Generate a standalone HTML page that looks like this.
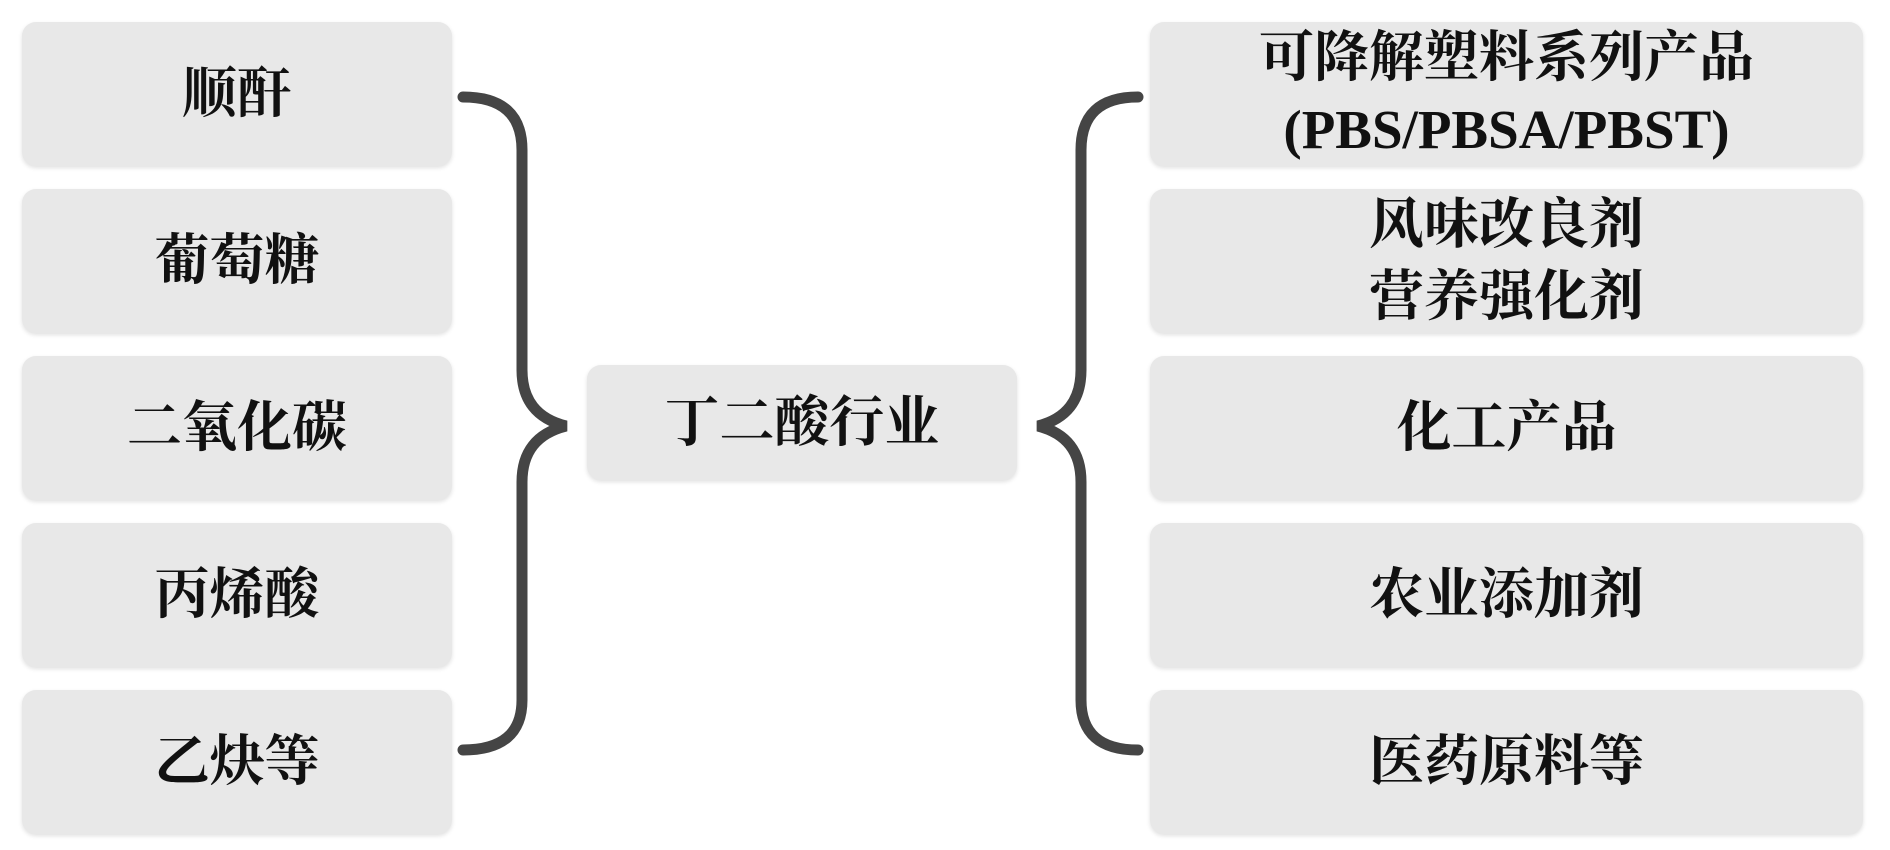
<!DOCTYPE html>
<html><head><meta charset="utf-8"><style>
body{margin:0;width:1890px;height:850px;background:#fff;position:relative;overflow:hidden;font-family:"Liberation Serif","Noto Serif CJK SC",serif;font-weight:bold;color:#111}
.b{position:absolute;background:#e8e8e8;border-radius:14px;box-shadow:0 2px 4px rgba(0,0,0,.12);display:flex;align-items:center;justify-content:center;text-align:center;font-size:55px;line-height:72px}
</style></head><body>
<div class="b" style="left:22px;top:22px;width:430px;height:144px">顺酐</div>
<div class="b" style="left:22px;top:189px;width:430px;height:144px">葡萄糖</div>
<div class="b" style="left:22px;top:356px;width:430px;height:144px">二氧化碳</div>
<div class="b" style="left:22px;top:523px;width:430px;height:144px">丙烯酸</div>
<div class="b" style="left:22px;top:690px;width:430px;height:144px">乙炔等</div>
<div class="b" style="left:587px;top:365px;width:430px;height:115px">丁二酸行业</div>
<div class="b" style="left:1150px;top:22px;width:713px;height:144px">可降解塑料系列产品<br>(PBS/PBSA/PBST)</div>
<div class="b" style="left:1150px;top:189px;width:713px;height:144px">风味改良剂<br>营养强化剂</div>
<div class="b" style="left:1150px;top:356px;width:713px;height:144px">化工产品</div>
<div class="b" style="left:1150px;top:523px;width:713px;height:144px">农业添加剂</div>
<div class="b" style="left:1150px;top:690px;width:713px;height:144px">医药原料等</div>
<svg width="1890" height="850" style="position:absolute;left:0;top:0">
<g fill="none" stroke="#454545" stroke-width="11" stroke-linecap="round">
<path d="M463 97 Q522 97 522 150 L522 370 Q522 415 566 426 Q522 437 522 482 L522 700 Q522 750 463 750"/>
<path d="M1138 97 Q1081 97 1081 150 L1081 370 Q1081 415 1038 426 Q1081 437 1081 482 L1081 700 Q1081 750 1138 750"/>
</g></svg>
</body></html>
